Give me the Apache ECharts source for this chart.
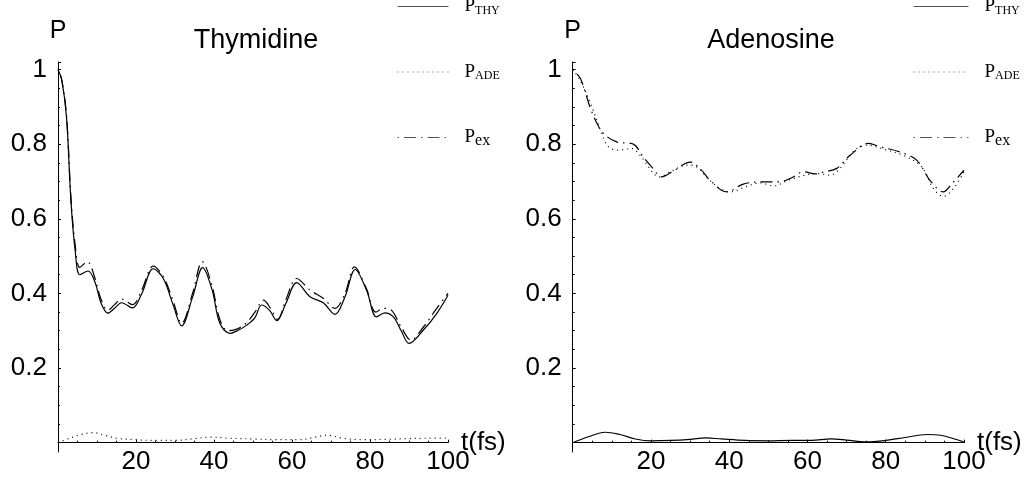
<!DOCTYPE html>
<html><head><meta charset="utf-8">
<script src="https://cdn.jsdelivr.net/npm/echarts@6/dist/echarts.min.js"></script>
<style>html,body{margin:0;padding:0;background:#fff}#c{width:1028px;height:482px}</style>
</head><body><div id="c"></div>
<script>
// ---------- data ----------
const seriesNames = ['P_THY', 'P_ADE', 'P_ex'];
const panelTitles = ['Thymidine', 'Adenosine'];
const xTickLabels = [20, 40, 60, 80, 100];
const yTickLabels = [0.2, 0.4, 0.6, 0.8, 1];

// Thymidine panel
const thyThyT = [0,1,2.2,3.3,4.4,5.6,7.7,9.5,11,12.8,14.5,16.3,19.1,21.5,24.4,27,29.5,31.7,34.5,37.1,39.5,41.5,44.1,46,48.4,50.5,52.2,54.2,56.1,58.5,61.2,64.6,68,71,73.6,76.2,79.1,81.7,83.8,86,88,90,93.7,97.1,100];
const thyThyV = [1.0,0.97,0.87,0.65,0.515,0.45,0.46,0.43,0.375,0.347,0.36,0.375,0.361,0.40,0.466,0.44,0.37,0.313,0.39,0.469,0.41,0.32,0.293,0.30,0.315,0.335,0.369,0.355,0.327,0.375,0.429,0.391,0.375,0.344,0.391,0.464,0.409,0.337,0.348,0.337,0.30,0.266,0.302,0.346,0.395];
const thyAdeT = [0,3,6,9,12,15,20,25,30,35,39,44,50,56,62,66,69,73,78,84,90,95,100];
const thyAdeV = [0,0.012,0.022,0.027,0.02,0.012,0.008,0.006,0.006,0.011,0.015,0.012,0.01,0.008,0.008,0.015,0.02,0.012,0.008,0.009,0.011,0.012,0.012];
const thyExT = [0,1,2.2,3.3,4.4,5.6,7.5,9.5,11,12.8,14.5,16.3,19.1,21.5,24.4,27,29.5,31.7,34.5,37,39.5,41.5,43.5,46,48.4,50.5,52.7,54.5,56.3,58.5,61.2,64.6,68,71,73.6,76,79,81.5,83.5,85.5,88,90.5,93.7,97.1,100];
const thyExV = [1.0,0.97,0.875,0.66,0.53,0.47,0.485,0.44,0.385,0.355,0.37,0.385,0.37,0.41,0.473,0.445,0.38,0.32,0.40,0.485,0.42,0.33,0.30,0.305,0.322,0.35,0.382,0.36,0.33,0.385,0.44,0.409,0.387,0.36,0.40,0.471,0.415,0.35,0.36,0.355,0.31,0.275,0.31,0.36,0.40];

// Adenosine panel
const adeThyT = [0,4,8.3,12,16,20,25,30,34,38,44,50,56,61,66,70,75,80,85,90.5,94,97,100];
const adeThyV = [0,0.016,0.028,0.022,0.01,0.005,0.006,0.009,0.013,0.01,0.006,0.005,0.006,0.006,0.01,0.007,0.002,0.006,0.014,0.022,0.02,0.012,0.002];
const adeAdeT = [0,1.9,4.9,7.4,9.1,11.7,15.1,17.2,22.3,24.9,29.5,31.7,34.2,37.6,40.2,44,47.9,51.3,55.5,62.4,65.8,68.3,72.1,75.1,80.2,84.5,89.2,92.2,94.7,97.3,100];
const adeAdeV = [1.0,0.971,0.90,0.829,0.793,0.784,0.788,0.77,0.712,0.726,0.744,0.739,0.712,0.681,0.672,0.685,0.696,0.688,0.705,0.721,0.717,0.735,0.784,0.797,0.784,0.77,0.739,0.681,0.66,0.681,0.726];
const adeExT = [0,2,4.4,6,7.8,11.2,15.5,18,20.5,22.7,26,30,32.5,35.1,39.4,43.6,48.7,53,56,59,62,64,67.5,70.9,75.6,78.5,83.6,87.9,91.3,94.7,97,100];
const adeExV = [1.0,0.975,0.90,0.86,0.829,0.806,0.80,0.766,0.735,0.712,0.73,0.752,0.735,0.703,0.672,0.693,0.699,0.699,0.71,0.726,0.72,0.725,0.735,0.77,0.802,0.793,0.779,0.757,0.703,0.672,0.695,0.73];

// ---------- chart ----------
const zip = (t, v) => t.map((x, i) => [x, v[i]]);
const panelData = [
  [zip(thyThyT, thyThyV), zip(thyAdeT, thyAdeV), zip(thyExT, thyExV)],
  [zip(adeThyT, adeThyV), zip(adeAdeT, adeAdeV), zip(adeExT, adeExV)]
];
const lineTypes = ['solid', [1, 4], [1.5, 5, 12, 5]];

const panels = [
  { left: 58, width: 390, titleX: 251, legendX: 397, legendW: 51 },
  { left: 572.7, width: 391.3, titleX: 766, legendX: 913, legendW: 55 }
];
const FONT = 'Liberation Sans';
const black = '#000';

const grid = [], xAxis = [], yAxis = [], series = [], title = [], legend = [];
panels.forEach((p, i) => {
  grid.push({ left: p.left, width: p.width, top: 62, bottom: 39.3 });
  xAxis.push({
    type: 'value', gridIndex: i, min: 0, max: 100, interval: 20,
    name: 't(fs)', nameLocation: 'end', nameGap: 13, nameMoveOverlap: false,
    nameTextStyle: { fontFamily: FONT, fontSize: 26, color: black, padding: [4, 0, 0, 0] },
    axisLine: { show: true, onZero: false, lineStyle: { color: black, width: 1 } },
    axisTick: { show: true, inside: true, length: 3, lineStyle: { color: black } },
    minorTick: { show: true, splitNumber: 4, length: 2, lineStyle: { color: black } },
    splitLine: { show: false },
    axisLabel: {
      fontFamily: FONT, fontSize: 26, color: black, margin: 6,
      formatter: v => xTickLabels.includes(v) ? String(v) : ''
    }
  });
  yAxis.push({
    type: 'value', gridIndex: i, min: 0, max: 1.02, interval: 0.2,
    name: 'P', nameLocation: 'end', nameGap: 18, nameMoveOverlap: false,
    nameTextStyle: { fontFamily: FONT, fontSize: 25, color: black },
    axisLine: { show: false },
    axisTick: { show: true, inside: true, length: 3, lineStyle: { color: black } },
    minorTick: { show: true, splitNumber: 4, length: 2, lineStyle: { color: black } },
    splitLine: { show: false },
    axisLabel: {
      fontFamily: FONT, fontSize: 26, color: black, margin: 11,
      formatter: v => yTickLabels.some(t => Math.abs(t - v) < 1e-6) ? String(v) : ''
    }
  });
  title.push({
    text: panelTitles[i], left: p.titleX, top: 22, textAlign: 'center',
    textStyle: { fontFamily: FONT, fontSize: 27, fontWeight: 'normal', color: black }
  });
  legend.push({
    data: seriesNames, orient: 'vertical', left: p.legendX, top: -3, padding: 0,
    itemWidth: p.legendW, itemHeight: 14, itemGap: 46,
    lineStyle: { color: '#555', width: 1 },
    itemStyle: { opacity: 0, color: 'rgba(0,0,0,0)', borderWidth: 0 },
    formatter: n => {
      const sub = n.split('_')[1];
      return '{p|P}' + (sub === 'ex' ? '{e|ex}' : '{s|' + sub + '}');
    },
    textStyle: {
      rich: {
        p: { fontFamily: 'Liberation Serif', fontSize: 19, color: black, padding: [0, 0, 0, 11] },
        s: { fontFamily: 'Liberation Serif', fontSize: 12, color: black, padding: [8, 0, 0, 0] },
        e: { fontFamily: 'Liberation Serif', fontSize: 16, color: black, padding: [7, 0, 0, 0] }
      }
    }
  });
  panelData[i].forEach((d, k) => {
    series.push({
      name: seriesNames[k], type: 'line', xAxisIndex: i, yAxisIndex: i,
      data: d, smooth: 0.35, symbol: 'none', showSymbol: false,
      lineStyle: { color: black, width: 1.2, type: lineTypes[k] },
      itemStyle: { color: black }, emphasis: { disabled: true }
    });
  });
});
// axis-line extensions (vertical axis line reaching below the time axis)
panels.forEach((p, i) => {
  grid.push({ left: p.left, width: p.width, top: 62, bottom: 30 });
  xAxis.push({ type: 'value', gridIndex: 2 + i, show: false, min: 0, max: 100 });
  yAxis.push({
    type: 'value', gridIndex: 2 + i, min: 0, max: 1,
    axisLine: { show: true, lineStyle: { color: black, width: 1 } },
    axisTick: { show: false }, axisLabel: { show: false }, splitLine: { show: false }
  });
});

const chart = echarts.init(document.getElementById('c'), null, { renderer: 'canvas' });
chart.setOption({
  animation: false, backgroundColor: '#fff',
  grid, xAxis, yAxis, series, title, legend
});
</script></body></html>
